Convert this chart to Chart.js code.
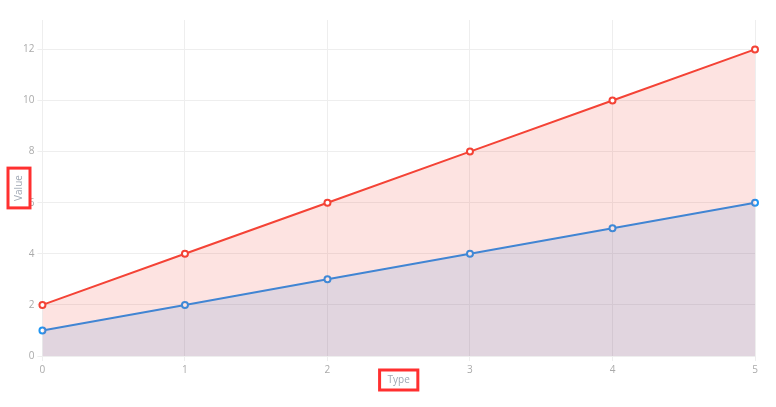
<!DOCTYPE html>
<html>
<head>
<meta charset="utf-8">
<script src="https://cdn.jsdelivr.net/npm/chart.js@4/dist/chart.umd.min.js"></script>
<style>
html,body{margin:0;padding:0;background:#fff;}
#wrap{width:776px;height:407px;}
</style>
</head>
<body>
<div id="wrap"><canvas id="c" width="776" height="407"></canvas></div>
<script>
const categories = ['0', '1', '2', '3', '4', '5'];
const seriesA = [2, 4, 6, 8, 10, 12];
const seriesB = [1, 2, 3, 4, 5, 6];
const yTicks = [0, 2, 4, 6, 8, 10, 12];

const FONT = "'Open Sans', sans-serif";

const titleBoxPlugin = {
  id: 'titleBox',
  afterDraw(chart) {
    const ctx = chart.ctx;
    ctx.save();
    ctx.strokeStyle = '#ff3030';
    ctx.lineWidth = 3;
    ['x', 'y'].forEach(id => {
      const s = chart.scales[id];
      const t = s.options.title;
      const fs = t.font.size;
      const lh = fs * 1.2;
      ctx.font = fs + "px " + FONT;
      const w = ctx.measureText(t.text).width;
      if (id === 'x') {
        const cx = (s.left + s.right) / 2;
        const cy = s.bottom - t.padding.bottom - lh / 2;
        ctx.strokeRect(cx - w / 2 - 8, cy - lh / 2 - 4, w + 16, lh + 8);
      } else {
        const cx = s.left + t.padding.top + lh / 2;
        const cy = (s.top + s.bottom) / 2;
        ctx.strokeRect(cx - lh / 2 - 5, cy - w / 2 - 7, lh + 10, w + 14);
      }
    });
    ctx.restore();
  }
};

new Chart(document.getElementById('c'), {
  type: 'line',
  data: {
    labels: categories,
    datasets: [
      {
        label: 'A',
        data: seriesA,
        borderColor: '#f44336',
        backgroundColor: 'rgba(244,67,54,0.15)',
        fill: 'origin',
        borderWidth: 2,
        pointRadius: 3,
        pointBorderWidth: 2,
        pointBackgroundColor: '#fff',
        pointBorderColor: '#f44336',
        tension: 0
      },
      {
        label: 'B',
        data: seriesB,
        borderColor: '#2391ef',
        backgroundColor: 'rgba(33,150,243,0.15)',
        fill: 'origin',
        borderWidth: 2,
        pointRadius: 3,
        pointBorderWidth: 2,
        pointBackgroundColor: '#fff',
        pointBorderColor: '#2196f3',
        tension: 0
      }
    ]
  },
  options: {
    responsive: false,
    animation: false,
    devicePixelRatio: 1,
    layout: { padding: { left: 9, right: 21, top: 20, bottom: 21 } },
    plugins: { legend: { display: false }, tooltip: { enabled: false } },
    scales: {
      x: {
        grid: { color: '#eeeeee', tickLength: 5 },
        border: { color: '#eeeeee' },
        ticks: { color: '#aaaaaa', font: { family: FONT, size: 10 }, padding: 3, maxRotation: 0 },
        title: { display: true, text: 'Type', color: '#a0a8b4', font: { family: FONT, size: 10 }, padding: { top: -5, bottom: 0 } }
      },
      y: {
        min: 0,
        max: 13.15,
        afterBuildTicks(scale) { scale.ticks = yTicks.map(v => ({ value: v })); },
        grid: { color: '#eeeeee', tickLength: 5 },
        border: { color: '#eeeeee' },
        ticks: { color: '#aaaaaa', font: { family: FONT, size: 10 }, padding: 3 },
        title: { display: true, text: 'Value', color: '#a0a8b4', font: { family: FONT, size: 10 }, padding: { top: 4, bottom: -5 } }
      }
    }
  },
  plugins: [titleBoxPlugin]
});
</script>
</body>
</html>
